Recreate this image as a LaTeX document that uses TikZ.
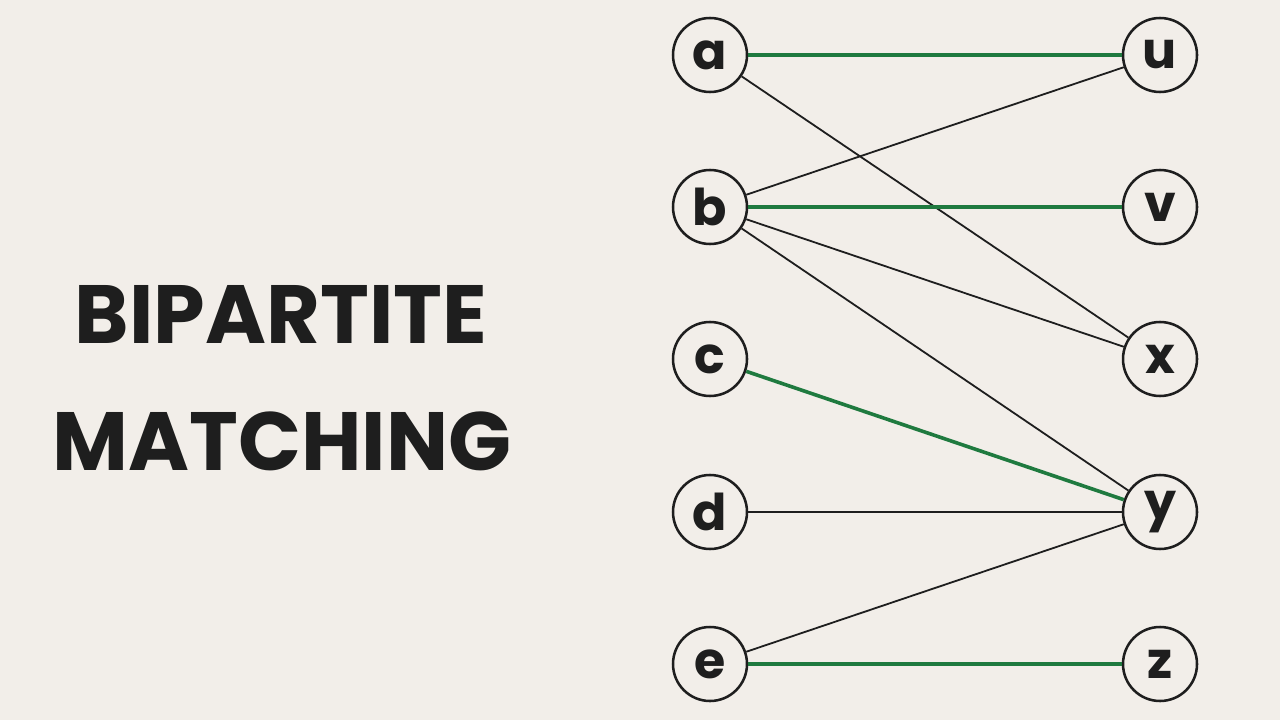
\documentclass[tikz,border=0pt]{standalone}
\usepackage{fontspec}
\setmainfont{Poppins}[BoldFont={* Bold}]
\newfontfamily\popb{Poppins Bold}
\definecolor{bgc}{HTML}{F2EEE9}
\definecolor{ink}{HTML}{1E1E1E}
\definecolor{grn}{HTML}{1F7A3F}
\begin{document}
\begin{tikzpicture}[x=0.75pt,y=-0.75pt,
  vert/.style={circle,draw=ink,line width=1.9pt,minimum size=55.5pt,inner sep=0pt,text=ink,font=\popb\fontsize{38}{38}\selectfont},
  plain/.style={draw=ink,line width=1.35pt},
  match/.style={draw=grn,line width=2.7pt},
  title/.style={text=ink,font=\popb\fontsize{62}{62}\selectfont,inner sep=0pt}]
\fill[bgc] (0,0) rectangle (1280,720);
\useasboundingbox (0,0) rectangle (1280,720);
\node[title,anchor=base] (t1) at (281,343) {BIPARTITE};
\node[title,anchor=base] (t2) at (282,470) {MATCHING};
\node[vert] (a) at (710,55) {a};
\node[vert] (b) at (710,207) {b};
\node[vert] (c) at (710,359) {c};
\node[vert] (d) at (710,512) {d};
\node[vert] (e) at (710,664) {e};
\node[vert] (u) at (1160,55) {u};
\node[vert] (v) at (1160,207) {v};
\node[vert] (x) at (1160,359) {x};
\node[vert] (y) at (1160,512) {y};
\node[vert] (z) at (1160,664) {z};
\draw[plain] (a) -- (x);
\draw[plain] (b) -- (u);
\draw[plain] (b) -- (x);
\draw[plain] (b) -- (y);
\draw[plain] (d) -- (y);
\draw[plain] (e) -- (y);
\draw[match] (a) -- (u);
\draw[match] (b) -- (v);
\draw[match] (c) -- (y);
\draw[match] (e) -- (z);
\end{tikzpicture}
\end{document}
